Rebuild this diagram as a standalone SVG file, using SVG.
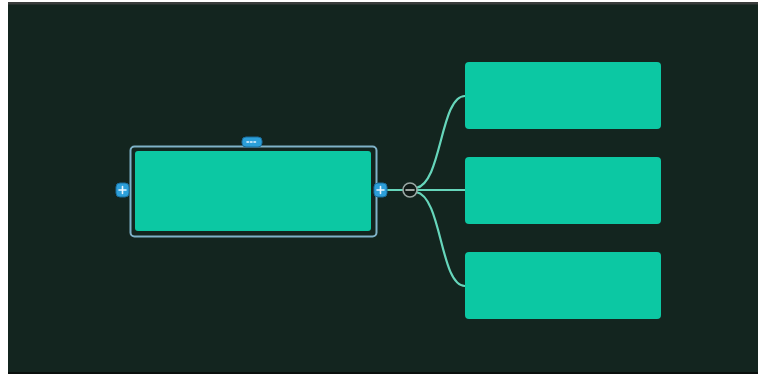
<svg xmlns="http://www.w3.org/2000/svg" width="758" height="380" viewBox="0 0 758 380">
<defs>
<style>
.bg{fill:#13251f}
.child{fill:#0cc8a3}
.link{fill:none;stroke:#66d6bb;stroke-width:2.2;stroke-linecap:round}
.btn{fill:#2c9fd9;stroke:#1a6d9b;stroke-width:1}
.ico{stroke:#e8f6ff;stroke-width:1.6;stroke-linecap:round}
</style>
</defs>
<rect x="0" y="0" width="758" height="380" fill="#ffffff"/>
<rect x="8" y="2" width="750" height="372" class="bg"/>
<rect x="8" y="2" width="750" height="2.5" fill="#3a3d3c"/>
<rect x="8" y="372" width="750" height="2" fill="#0a0f0d"/>
<g id="connectors">
<path class="link" d="M376,190 L403,190"/>
<path class="link" d="M416,188 C442,184 440,96 465,96"/>
<path class="link" d="M417,190 L465,190"/>
<path class="link" d="M416,192 C442,196 440,286 465,286"/>
</g>
<g id="root">
<rect x="130.5" y="146.5" width="246" height="90" rx="4" fill="none" stroke="#7fb2c8" stroke-width="2"/>
<rect x="135" y="151" width="236" height="80" rx="3" class="child"/>
<g id="root-add-left">
<rect x="116" y="183" width="13" height="14" rx="4" class="btn"/>
<path class="ico" d="M119,190 H126 M122.5,186.5 V193.5"/>
</g>
<g id="root-add-right">
<rect x="374" y="183" width="13" height="14" rx="4" class="btn"/>
<path class="ico" d="M377,190 H384 M380.5,186.5 V193.5"/>
</g>
<g id="root-tag">
<rect x="242" y="137" width="20" height="10" rx="4" class="btn"/>
<path class="ico" d="M247,142 H257" stroke-dasharray="1.5 2" stroke-width="1.4"/>
</g>
</g>
<g id="collapse">
<circle cx="410" cy="190" r="7" fill="#101a17" stroke="#9aa8a4" stroke-width="1.6"/>
<path d="M406,190 H414" stroke="#c9d3d0" stroke-width="1.6" stroke-linecap="round"/>
</g>
<g id="child1"><rect x="465" y="62" width="196" height="67" rx="4" class="child"/></g>
<g id="child2"><rect x="465" y="157" width="196" height="67" rx="4" class="child"/></g>
<g id="child3"><rect x="465" y="252" width="196" height="67" rx="4" class="child"/></g>
</svg>
